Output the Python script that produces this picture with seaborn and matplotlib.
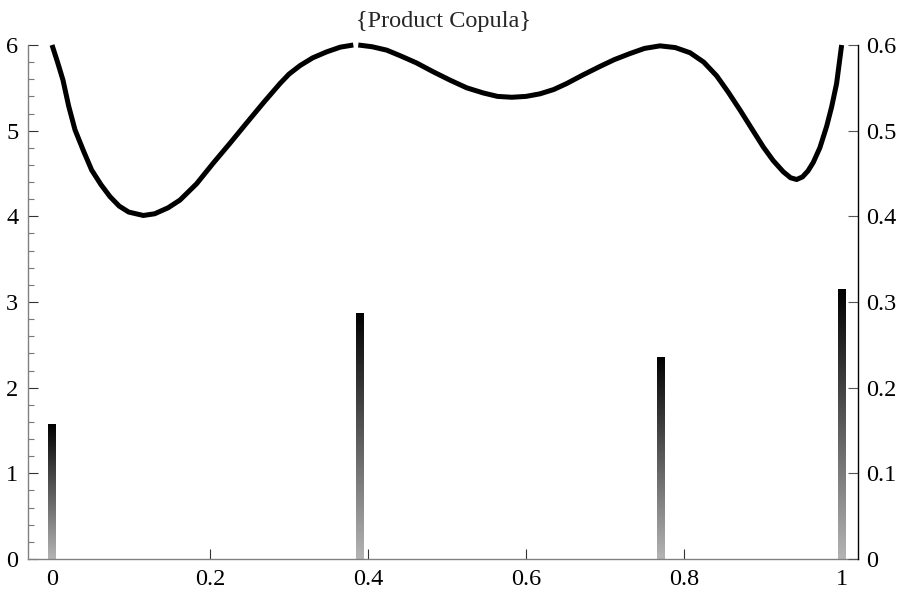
import numpy as np
import pandas as pd
import matplotlib
matplotlib.use("Agg")
import matplotlib.pyplot as plt
from matplotlib.ticker import MultipleLocator, FixedLocator
from matplotlib.colors import LinearSegmentedColormap
import seaborn as sns

# ---- data ----
title = "{Product Copula}"

curve_left_x = [0.0, 0.007, 0.0139, 0.021, 0.0291, 0.040, 0.0502, 0.062, 0.0734,
                0.085, 0.097, 0.1156, 0.13, 0.147, 0.162, 0.183, 0.204, 0.225,
                0.2464, 0.268, 0.2886, 0.30, 0.314, 0.33, 0.3477, 0.365, 0.3814]
curve_left_y = [6.0, 5.80, 5.59, 5.29, 5.01, 4.76, 4.54, 4.37, 4.23,
                4.12, 4.05, 4.01, 4.03, 4.10, 4.19, 4.38, 4.62, 4.85,
                5.09, 5.33, 5.55, 5.66, 5.76, 5.85, 5.92, 5.975, 6.0]

curve_right_x = [0.3877, 0.405, 0.4237, 0.442, 0.4616, 0.482, 0.5038, 0.525,
                 0.546, 0.564, 0.582, 0.60, 0.6177, 0.635, 0.6515, 0.672,
                 0.6937, 0.712, 0.7316, 0.75, 0.7696, 0.789, 0.8076, 0.825,
                 0.8414, 0.856, 0.871, 0.886, 0.9004, 0.913, 0.9257, 0.935,
                 0.9426, 0.950, 0.957, 0.9637, 0.972, 0.9806, 0.987, 0.9932, 0.9996]
curve_right_y = [6.0, 5.98, 5.94, 5.87, 5.79, 5.69, 5.59, 5.50,
                 5.44, 5.40, 5.39, 5.40, 5.43, 5.48, 5.55, 5.65,
                 5.75, 5.83, 5.90, 5.96, 5.99, 5.97, 5.91, 5.80,
                 5.64, 5.45, 5.24, 5.02, 4.81, 4.65, 4.52, 4.45,
                 4.43, 4.46, 4.53, 4.63, 4.80, 5.05, 5.28, 5.55, 6.0]

bar_x = [0.0, 0.39, 0.77, 1.0]
bar_h = [1.576, 2.875, 2.358, 3.15]

x_ticks = [0, 0.2, 0.4, 0.6, 0.8, 1.0]
x_ticklabels = ["0", "0.2", "0.4", "0.6", "0.8", "1"]
left_ticks = [0, 1, 2, 3, 4, 5, 6]
left_ticklabels = ["0", "1", "2", "3", "4", "5", "6"]
right_ticks = [0, 0.1, 0.2, 0.3, 0.4, 0.5, 0.6]
right_ticklabels = ["0", "0.1", "0.2", "0.3", "0.4", "0.5", "0.6"]

# ---- style ----
sns.set_theme(style="white")
plt.rcParams["font.family"] = ["Liberation Serif", "DejaVu Serif"]
FS = 17.5

fig = plt.figure(figsize=(8.97, 5.92), dpi=100)
ax = fig.add_axes([28 / 897, 1 - 559 / 592, (858 - 28) / 897, (559 - 45) / 592])

# bars (narrow, at native x positions)
bar_df = pd.DataFrame({"x": bar_x, "h": bar_h})
min_gap = np.min(np.diff(sorted(bar_x)))
sns.barplot(data=bar_df, x="x", y="h", native_scale=True, width=0.0093 / min_gap,
            color="black", linewidth=0, ax=ax, zorder=2)

# gradient fill inside each bar
cmap = LinearSegmentedColormap.from_list("g", ["#b4b4b4", "#000000"])
grad = np.linspace(0, 1, 256).reshape(-1, 1)
for p in list(ax.patches):
    bb = p.get_bbox()
    im = ax.imshow(grad, extent=[bb.x0, bb.x1, bb.y0, bb.y1], origin="lower",
                   aspect="auto", cmap=cmap, zorder=2.5, interpolation="bilinear")
    im.set_clip_path(p)

# curve (two pieces)
for cx, cy in [(curve_left_x, curve_left_y), (curve_right_x, curve_right_y)]:
    sns.lineplot(x=cx, y=cy, sort=False, estimator=None, color="black",
                 linewidth=3.6, ax=ax, zorder=3, clip_on=False,
                 solid_capstyle="butt", solid_joinstyle="round")

ax.set_xlim(-0.0304, 1.0203)
ax.set_ylim(0, 6)
ax.set_xlabel("")
ax.set_ylabel("")

ax.xaxis.set_major_locator(FixedLocator(x_ticks))
ax.set_xticklabels(x_ticklabels, fontsize=FS)
ax.yaxis.set_major_locator(FixedLocator(left_ticks))
ax.set_yticklabels(left_ticklabels, fontsize=FS)
ax.yaxis.set_minor_locator(MultipleLocator(0.2))

ax.tick_params(axis="x", which="major", direction="in", length=7, width=0.8,
               color="#333333", pad=7, labelcolor="black", top=False, bottom=True)
ax.tick_params(axis="y", which="major", direction="in", length=7, width=0.8,
               color="#333333", pad=7, labelcolor="black", left=True, right=False)
ax.tick_params(axis="y", which="minor", direction="in", length=4, width=0.8,
               color="#777777", left=True, right=False)

for s in ["top", "right"]:
    ax.spines[s].set_visible(False)
for s in ["left", "bottom"]:
    ax.spines[s].set_color("#808080")
    ax.spines[s].set_linewidth(1.0)

ax2 = ax.twinx()
ax2.set_ylim(0, 0.6)
ax2.yaxis.set_major_locator(FixedLocator(right_ticks))
ax2.set_yticklabels(right_ticklabels, fontsize=FS)
ax2.tick_params(axis="y", which="major", direction="in", length=7, width=0.8,
                color="#555555", pad=6, labelcolor="black", right=True, left=False)
for s in ["top", "left", "bottom"]:
    ax2.spines[s].set_visible(False)
ax2.spines["right"].set_color("black")
ax2.spines["right"].set_linewidth(1.0)
ax2.grid(False)
ax.grid(False)

ax.set_title(title, fontsize=FS, pad=13)

fig.savefig("out.png", dpi=100)
